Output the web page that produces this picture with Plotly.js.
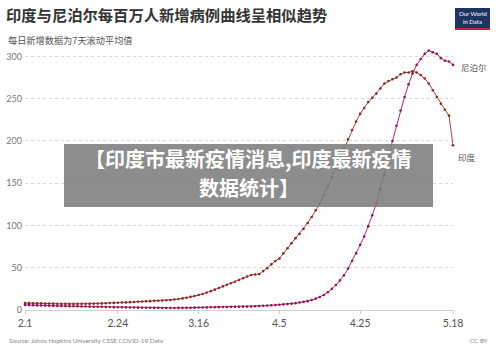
<!DOCTYPE html>
<html><head><meta charset="utf-8">
<script src="https://cdn.plot.ly/plotly-3.0.1.min.js"></script>
<style>html,body{margin:0;padding:0;background:#fff}#chart{width:500px;height:352px}</style>
</head><body><div id="chart"></div>
<script>
const startDate = '2021-02-01';
const india = [8.3,8.1,8.0,7.9,7.8,7.7,7.6,7.5,7.4,7.3,7.3,7.2,7.2,7.2,7.3,7.4,7.5,7.6,7.7,7.8,8.0,8.2,8.4,8.6,8.8,9.0,9.3,9.5,9.8,10.0,10.3,10.5,10.8,11.0,11.3,11.5,11.8,12.4,13.0,13.7,14.5,15.5,16.5,17.7,19.0,20.6,22.3,24.1,26.0,27.9,29.8,31.6,33.5,35.5,37.5,39.5,41.5,42.0,42.5,46.0,49.5,54.0,58.0,61.0,67.0,73.0,79.0,85.0,90.0,96.0,103,110,118,126,136,146,157,168,179,190,202,213,223,232,239,246,251,256,262,268,271,273,275,279,281,281,282.5,281,278,274,268,260,252,244,237,230,195];
const nepal = [6.0,5.8,5.6,5.5,5.3,5.2,5.0,4.9,4.8,4.7,4.6,4.5,4.4,4.3,4.2,4.1,4.0,3.9,3.8,3.7,3.6,3.5,3.4,3.3,3.2,3.1,3.0,2.9,2.8,2.7,2.6,2.6,2.5,2.5,2.4,2.4,2.4,2.4,2.5,2.5,2.6,2.7,2.8,2.9,3.0,3.1,3.2,3.3,3.4,3.5,3.6,3.7,3.8,3.9,4.0,4.0,4.2,4.4,4.7,5.0,5.3,5.6,5.9,6.2,6.6,7.0,7.5,8.1,8.8,9.6,10.5,11.8,13.4,15.3,17.8,21,25,29.5,35,41,49,58,67,77,87,99,112,126,143,160,180,200,218,236,252,267,280,290,297,303,307,305,303,298,295,294,290];
const tickDates = ['2021-02-01','2021-02-24','2021-03-16','2021-04-05','2021-04-25','2021-05-18'];
const tickLabels = ['2.1','2.24','3.16','4.5','4.25','5.18'];
const yTicks = [0,50,100,150,200,250,300];
const seriesNames = ['印度','尼泊尔'];

function dates(n){
  const out=[]; const d0=new Date(startDate+'T00:00:00Z');
  for(let i=0;i<n;i++){const d=new Date(d0.getTime()+i*86400000);out.push(d.toISOString().slice(0,10));}
  return out;
}
const xs = dates(india.length);
const cIndia='#b3423a', cNepal='#c2237a';
const traces=[
 {x:xs,y:india,type:'scatter',mode:'lines+markers',name:seriesNames[0],line:{color:cIndia,width:1},marker:{size:2.6,color:'#8a2a26'},cliponaxis:false,hoverinfo:'skip'},
 {x:xs,y:nepal,type:'scatter',mode:'lines+markers',name:seriesNames[1],line:{color:cNepal,width:1},marker:{size:2.6,color:'#8e1655'},cliponaxis:false,hoverinfo:'skip'}
];
const cjk='"Noto Sans CJK SC", "Noto Sans", sans-serif';
// pixel -> paper helpers (plot area: x 25..453, y 48..310)
const px=v=>(v-25)/428, py=v=>(310-v)/262;
const layout={
 width:500,height:352,showlegend:false,
 paper_bgcolor:'#fff',plot_bgcolor:'#fff',
 margin:{l:25,r:47,t:48,b:42},
 title:{text:'<b>印度与尼泊尔每百万人新增病例曲线呈相似趋势</b>',font:{family:cjk,size:15.3,color:'#333'},xref:'container',yref:'container',x:0.012,xanchor:'left',y:0.955,yanchor:'middle'},
 xaxis:{type:'date',range:['2021-02-01','2021-05-18'],tickvals:tickDates,ticktext:tickLabels,showgrid:false,zeroline:false,
   showline:true,linecolor:'#d0d0d0',linewidth:1,ticks:'outside',ticklen:3,tickcolor:'#d0d0d0',
   tickfont:{family:'Lato, sans-serif',size:10.5,color:'#555'}},
 yaxis:{range:[0,310],tickvals:yTicks,showgrid:true,gridcolor:'#d6d6d6',griddash:'dot',gridwidth:1,zeroline:false,showline:false,
   ticks:'',ticklabelstandoff:2,tickfont:{family:'Lato, sans-serif',size:9,color:'#777'}},
 annotations:[
  {text:'每日新增数据为7天滚动平均值',xref:'paper',yref:'paper',x:px(6),y:py(40),xanchor:'left',yanchor:'middle',showarrow:false,font:{family:cjk,size:9.2,color:'#555'}},
  {text:'尼泊尔',xref:'x',yref:'y',x:xs[xs.length-1],y:nepal[nepal.length-1]-3,xanchor:'left',xshift:6,yanchor:'middle',showarrow:false,font:{family:cjk,size:8.5,color:'#555'}},
  {text:'印度',xref:'x',yref:'y',x:xs[xs.length-1],y:india[india.length-1]-5,xanchor:'left',xshift:3,yanchor:'top',showarrow:false,font:{family:cjk,size:8.5,color:'#555'}},
  {text:'Source: Johns Hopkins University CSSE COVID-19 Data',xref:'paper',yref:'paper',x:px(7),y:py(340),xanchor:'left',yanchor:'middle',showarrow:false,font:{family:'Lato, sans-serif',size:6.3,color:'#888'}},
  {text:'CC BY',xref:'paper',yref:'paper',x:px(490),y:py(340),xanchor:'right',yanchor:'middle',showarrow:false,font:{family:'Lato, sans-serif',size:6.3,color:'#888'}},
  {text:'Our World',xref:'paper',yref:'paper',x:px(472.5),y:py(14),xanchor:'center',yanchor:'middle',showarrow:false,font:{family:'Lato, sans-serif',size:6,color:'#fff'}},
  {text:'in Data',xref:'paper',yref:'paper',x:px(472.5),y:py(22),xanchor:'center',yanchor:'middle',showarrow:false,font:{family:'Lato, sans-serif',size:6,color:'#fff'}},
  {text:'<b>【印度市最新疫情消息,印度最新疫情</b>',xref:'paper',yref:'paper',x:px(248.5),y:py(158.5),xanchor:'center',yanchor:'middle',showarrow:false,font:{family:cjk,size:20,color:'#fff'}},
  {text:'<b>数据统计】</b>',xref:'paper',yref:'paper',x:px(248.5),y:py(187),xanchor:'center',yanchor:'middle',showarrow:false,font:{family:cjk,size:20,color:'#fff'}}
 ],
 shapes:[
  {type:'rect',layer:'above',xref:'paper',yref:'paper',x0:px(64),x1:px(433),y0:py(207),y1:py(144),line:{width:0},fillcolor:'rgba(125,125,125,0.88)'},
  {type:'rect',layer:'above',xref:'paper',yref:'paper',x0:px(455),x1:px(490),y0:py(29),y1:py(8),line:{width:0},fillcolor:'#1d3461'},
  {type:'rect',layer:'above',xref:'paper',yref:'paper',x0:px(455),x1:px(490),y0:py(30),y1:py(28),line:{width:0},fillcolor:'#c4243b'}
 ]
};
Plotly.newPlot('chart',traces,layout,{staticPlot:true});
</script></body></html>
